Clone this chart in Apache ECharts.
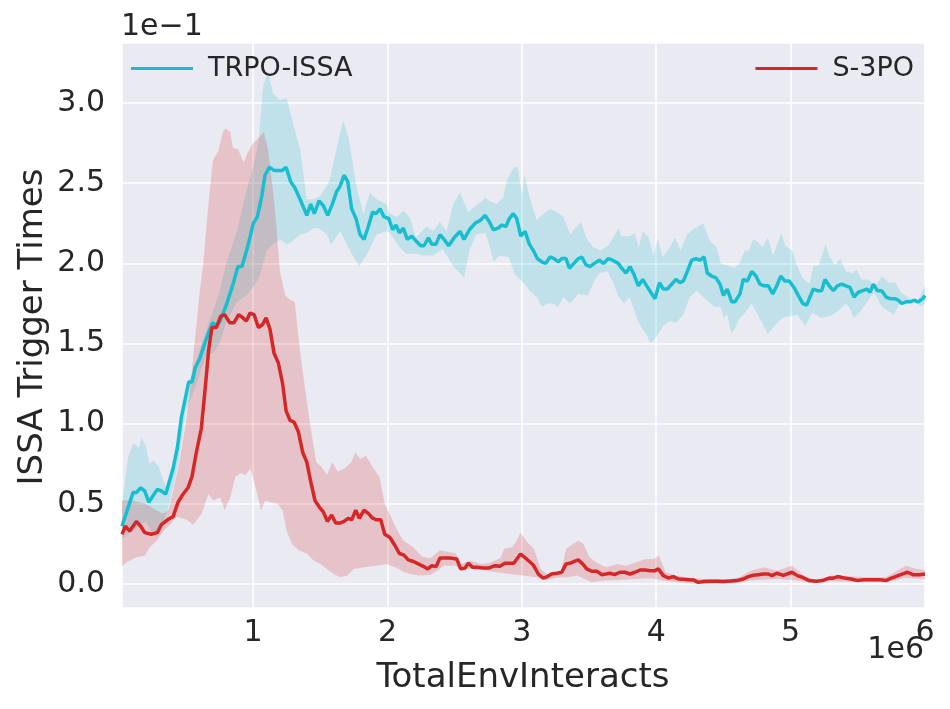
<!DOCTYPE html>
<html><head><meta charset="utf-8">
<script src="https://cdn.jsdelivr.net/npm/echarts@6/dist/echarts.min.js"></script>
<style>html,body{margin:0;padding:0;background:#fff}#c{width:950px;height:709px}</style>
</head><body><div id="c"></div><script>
// x values in units of 1e6 interactions, y values in units of 1e-1
const xTickLabels = ['1','2','3','4','5','6'];
const yTickLabels = ['0.0','0.5','1.0','1.5','2.0','2.5','3.0'];

const trpoX = [0.025,0.107,0.132,0.164,0.194,0.224,0.288,0.318,0.35,0.405,0.437,0.467,0.521,0.546,0.57,0.605,0.632,0.67,0.699,0.727,0.754,0.801,0.851,0.888,0.918,0.962,1.002,1.032,1.065,1.089,1.121,1.156,1.188,1.218,1.246,1.28,1.312,1.35,1.40,1.429,1.456,1.491,1.523,1.556,1.59,1.623,1.647,1.677,1.705,1.734,1.766,1.796,1.826,1.858,1.89,1.915,1.945,1.975,2.01,2.039,2.064,2.089,2.118,2.148,2.181,2.213,2.248,2.272,2.305,2.33,2.362,2.391,2.421,2.456,2.496,2.54,2.57,2.61,2.652,2.694,2.726,2.758,2.788,2.825,2.85,2.882,2.907,2.937,2.962,2.992,3.024,3.056,3.086,3.115,3.148,3.178,3.21,3.24,3.272,3.297,3.329,3.354,3.388,3.42,3.446,3.478,3.507,3.54,3.577,3.607,3.644,3.676,3.718,3.743,3.775,3.805,3.835,3.867,3.90,3.929,3.959,3.991,4.024,4.053,4.083,4.115,4.147,4.177,4.202,4.232,4.264,4.296,4.326,4.356,4.38,4.413,4.445,4.475,4.50,4.529,4.562,4.586,4.623,4.648,4.678,4.711,4.743,4.772,4.802,4.834,4.867,4.897,4.926,4.958,4.99,5.025,5.057,5.09,5.12,5.144,5.169,5.199,5.231,5.256,5.288,5.318,5.348,5.38,5.412,5.442,5.472,5.504,5.537,5.567,5.591,5.616,5.646,5.678,5.71,5.74,5.777,5.802,5.827,5.859,5.889,5.918,5.95,5.983,6.0];
const trpoY = [0.36,0.57,0.57,0.60,0.58,0.51,0.59,0.58,0.56,0.72,0.85,1.04,1.26,1.26,1.35,1.41,1.48,1.57,1.63,1.61,1.64,1.74,1.87,1.98,1.98,2.11,2.25,2.29,2.42,2.55,2.60,2.58,2.58,2.58,2.60,2.51,2.47,2.40,2.30,2.37,2.31,2.39,2.36,2.30,2.37,2.45,2.48,2.55,2.51,2.34,2.28,2.18,2.15,2.23,2.32,2.31,2.34,2.29,2.28,2.21,2.24,2.19,2.22,2.15,2.17,2.14,2.11,2.11,2.16,2.12,2.12,2.18,2.15,2.11,2.16,2.20,2.15,2.21,2.25,2.27,2.30,2.26,2.21,2.22,2.24,2.23,2.28,2.31,2.28,2.17,2.20,2.12,2.08,2.03,2.01,2.00,2.04,2.03,2.01,2.03,2.03,1.97,2.00,2.03,2.04,1.99,1.98,2.00,2.02,2.00,2.03,2.02,2.00,1.97,1.94,1.98,1.93,1.86,1.90,1.86,1.82,1.78,1.88,1.84,1.84,1.87,1.90,1.88,1.89,1.95,2.02,2.03,2.02,2.04,1.94,1.92,1.91,1.87,1.80,1.84,1.76,1.76,1.81,1.90,1.89,1.95,1.92,1.87,1.86,1.86,1.81,1.86,1.92,1.89,1.89,1.85,1.80,1.75,1.74,1.79,1.84,1.83,1.83,1.90,1.86,1.83,1.86,1.87,1.86,1.85,1.79,1.82,1.83,1.84,1.82,1.87,1.83,1.83,1.79,1.78,1.78,1.77,1.75,1.76,1.76,1.77,1.76,1.78,1.80];

const trpoUpX = [0.025,0.07,0.11,0.15,0.17,0.20,0.23,0.26,0.30,0.33,0.37,0.41,0.45,0.50,0.55,0.60,0.65,0.70,0.75,0.80,0.88,0.95,1.00,1.04,1.075,1.11,1.15,1.20,1.25,1.30,1.35,1.40,1.45,1.50,1.57,1.62,1.67,1.71,1.77,1.82,1.87,1.92,1.99,2.02,2.07,2.12,2.17,2.21,2.29,2.34,2.39,2.44,2.49,2.54,2.60,2.66,2.73,2.76,2.81,2.86,2.89,2.94,2.97,3.00,3.02,3.06,3.11,3.16,3.21,3.26,3.31,3.36,3.44,3.48,3.53,3.59,3.65,3.72,3.74,3.80,3.84,3.87,3.90,3.94,3.98,4.01,4.05,4.10,4.14,4.18,4.23,4.27,4.35,4.40,4.45,4.48,4.53,4.58,4.62,4.66,4.69,4.72,4.75,4.79,4.83,4.87,4.93,4.96,5.01,5.05,5.09,5.14,5.17,5.21,5.26,5.29,5.33,5.37,5.41,5.46,5.49,5.53,5.58,5.63,5.68,5.73,5.78,5.82,5.87,5.90,5.94,5.98,6.00];
const trpoUp = [0.50,0.79,0.88,0.85,0.91,0.87,0.75,0.77,0.73,0.65,0.58,0.75,0.92,1.22,1.32,1.45,1.58,1.70,1.82,2.00,2.20,2.45,2.60,2.75,3.10,3.20,3.06,3.02,3.03,2.87,2.71,2.40,2.40,2.42,2.52,2.71,2.89,2.79,2.48,2.31,2.44,2.40,2.37,2.31,2.29,2.33,2.28,2.16,2.23,2.20,2.26,2.20,2.37,2.44,2.32,2.36,2.41,2.39,2.37,2.41,2.52,2.60,2.60,2.43,2.55,2.41,2.27,2.31,2.34,2.32,2.29,2.18,2.26,2.16,2.10,2.08,2.12,2.22,2.17,2.17,2.19,2.10,2.20,2.17,2.05,2.15,2.04,2.10,2.16,2.08,2.18,2.21,2.25,2.14,2.10,2.00,1.99,1.97,2.00,2.08,2.08,2.15,2.14,2.10,2.16,2.05,2.19,2.11,2.08,1.98,1.91,1.87,1.98,1.99,2.12,2.04,1.99,2.03,1.95,1.94,1.96,1.90,1.90,1.86,1.92,1.88,1.88,1.82,1.79,1.77,1.75,1.83,1.86];
const trpoLoX = [0.025,0.07,0.11,0.15,0.20,0.23,0.26,0.30,0.33,0.37,0.41,0.45,0.50,0.55,0.60,0.65,0.70,0.75,0.80,0.88,0.95,1.00,1.05,1.10,1.15,1.20,1.25,1.28,1.35,1.40,1.45,1.49,1.55,1.58,1.65,1.72,1.79,1.85,1.92,1.99,2.02,2.09,2.14,2.21,2.26,2.34,2.41,2.45,2.49,2.53,2.57,2.61,2.66,2.73,2.76,2.79,2.83,2.90,2.95,3.01,3.06,3.11,3.15,3.19,3.23,3.27,3.31,3.36,3.42,3.49,3.54,3.58,3.64,3.68,3.72,3.76,3.80,3.87,3.93,3.96,4.01,4.05,4.10,4.15,4.20,4.25,4.30,4.35,4.43,4.48,4.50,4.53,4.56,4.59,4.62,4.65,4.71,4.78,4.83,4.89,4.94,4.99,5.05,5.11,5.16,5.23,5.29,5.35,5.41,5.44,5.47,5.52,5.57,5.62,5.68,5.73,5.77,5.82,5.87,5.92,5.97,6.00];
const trpoLo = [0.28,0.31,0.33,0.36,0.39,0.35,0.31,0.33,0.37,0.48,0.62,0.78,1.08,1.18,1.30,1.42,1.44,1.50,1.63,1.76,1.80,1.85,1.92,2.08,2.12,2.15,2.12,2.13,2.18,2.19,2.22,2.22,2.18,2.12,2.20,2.08,1.98,2.06,2.18,2.20,2.19,2.10,2.06,2.06,2.05,2.05,2.09,2.04,1.98,1.95,1.91,2.08,2.18,2.19,2.11,2.01,2.05,2.04,1.93,1.88,1.83,1.79,1.73,1.75,1.75,1.73,1.79,1.75,1.81,1.80,1.89,1.94,1.95,1.88,1.79,1.75,1.79,1.63,1.55,1.50,1.55,1.61,1.64,1.63,1.68,1.79,1.83,1.79,1.73,1.73,1.66,1.68,1.56,1.60,1.66,1.68,1.75,1.64,1.56,1.62,1.66,1.67,1.68,1.61,1.69,1.66,1.67,1.70,1.75,1.72,1.66,1.70,1.76,1.82,1.73,1.70,1.68,1.77,1.76,1.77,1.73,1.75];

const s3poX = [0.025,0.05,0.082,0.132,0.164,0.194,0.243,0.288,0.318,0.363,0.405,0.442,0.479,0.516,0.546,0.578,0.615,0.645,0.67,0.694,0.727,0.759,0.789,0.826,0.858,0.893,0.925,0.95,0.978,1.008,1.04,1.072,1.097,1.126,1.156,1.188,1.22,1.246,1.276,1.305,1.337,1.37,1.40,1.429,1.461,1.493,1.523,1.553,1.585,1.615,1.647,1.677,1.71,1.734,1.764,1.791,1.826,1.858,1.89,1.92,1.95,1.98,2.019,2.056,2.089,2.123,2.155,2.193,2.23,2.267,2.30,2.33,2.362,2.391,2.428,2.466,2.515,2.545,2.577,2.602,2.634,2.668,2.713,2.758,2.80,2.837,2.874,2.912,2.94,2.99,3.035,3.086,3.123,3.16,3.19,3.222,3.26,3.297,3.329,3.36,3.39,3.42,3.453,3.483,3.52,3.56,3.594,3.626,3.656,3.69,3.73,3.768,3.805,3.842,3.88,3.917,3.955,3.99,4.016,4.053,4.09,4.127,4.165,4.202,4.24,4.276,4.313,4.35,4.40,4.45,4.50,4.56,4.60,4.648,4.685,4.723,4.76,4.797,4.834,4.86,4.897,4.946,5.01,5.05,5.087,5.137,5.19,5.236,5.288,5.31,5.35,5.40,5.45,5.50,5.55,5.60,5.66,5.71,5.75,5.80,5.85,5.87,5.91,5.96,6.00];
const s3poY = [0.31,0.36,0.33,0.39,0.36,0.32,0.31,0.32,0.37,0.40,0.42,0.51,0.56,0.60,0.67,0.82,0.97,1.23,1.46,1.60,1.60,1.67,1.68,1.63,1.63,1.68,1.66,1.64,1.69,1.68,1.60,1.62,1.66,1.59,1.44,1.38,1.25,1.08,1.02,1.01,0.95,0.82,0.76,0.64,0.52,0.48,0.45,0.39,0.43,0.38,0.38,0.39,0.41,0.40,0.46,0.41,0.46,0.44,0.41,0.40,0.40,0.31,0.29,0.24,0.19,0.18,0.15,0.14,0.125,0.11,0.094,0.114,0.108,0.162,0.162,0.162,0.156,0.094,0.10,0.129,0.104,0.104,0.10,0.10,0.114,0.11,0.129,0.129,0.129,0.187,0.156,0.118,0.062,0.037,0.046,0.062,0.067,0.073,0.125,0.129,0.141,0.15,0.125,0.094,0.079,0.079,0.058,0.062,0.067,0.058,0.073,0.073,0.062,0.073,0.087,0.087,0.083,0.083,0.094,0.052,0.037,0.046,0.031,0.029,0.027,0.025,0.010,0.015,0.017,0.017,0.015,0.019,0.021,0.031,0.046,0.054,0.058,0.062,0.062,0.052,0.067,0.054,0.073,0.052,0.042,0.021,0.017,0.021,0.037,0.035,0.046,0.037,0.031,0.021,0.027,0.027,0.027,0.021,0.037,0.052,0.067,0.073,0.058,0.058,0.062];

const s3poUpX = [0.025,0.10,0.20,0.28,0.33,0.37,0.40,0.45,0.50,0.53,0.56,0.60,0.63,0.66,0.70,0.74,0.78,0.80,0.83,0.85,0.89,0.93,0.96,1.00,1.04,1.08,1.11,1.15,1.17,1.20,1.24,1.28,1.31,1.35,1.39,1.43,1.47,1.51,1.55,1.59,1.63,1.68,1.73,1.76,1.80,1.84,1.89,1.94,1.98,2.02,2.07,2.12,2.19,2.26,2.32,2.35,2.39,2.45,2.51,2.55,2.61,2.70,2.76,2.84,2.87,2.93,2.96,2.99,3.04,3.09,3.14,3.19,3.25,3.29,3.33,3.38,3.42,3.46,3.50,3.56,3.63,3.71,3.78,3.85,3.92,3.98,4.02,4.07,4.15,4.26,4.35,4.50,4.55,4.62,4.70,4.80,4.90,5.01,5.10,5.20,5.30,5.45,5.60,5.71,5.80,5.86,5.94,6.00];
const s3poUp = [0.52,0.52,0.50,0.46,0.44,0.46,0.56,0.75,1.00,1.20,1.46,1.80,2.00,2.30,2.64,2.70,2.83,2.84,2.82,2.72,2.71,2.63,2.69,2.75,2.78,2.82,2.72,2.44,2.27,1.95,1.80,1.77,1.76,1.45,1.20,0.97,0.76,0.73,0.68,0.76,0.70,0.72,0.76,0.82,0.78,0.80,0.73,0.67,0.50,0.43,0.34,0.27,0.23,0.17,0.16,0.18,0.21,0.20,0.19,0.125,0.145,0.125,0.13,0.16,0.22,0.23,0.27,0.32,0.26,0.22,0.094,0.06,0.07,0.079,0.22,0.25,0.27,0.25,0.17,0.13,0.104,0.125,0.114,0.135,0.156,0.156,0.177,0.073,0.052,0.037,0.031,0.031,0.031,0.042,0.083,0.104,0.083,0.114,0.052,0.021,0.052,0.046,0.042,0.042,0.087,0.114,0.094,0.087];
const s3poLoX = [0.025,0.06,0.134,0.196,0.233,0.283,0.333,0.382,0.43,0.47,0.506,0.556,0.618,0.667,0.705,0.754,0.79,0.83,0.87,0.91,0.945,0.98,1.02,1.06,1.09,1.13,1.18,1.22,1.25,1.29,1.34,1.40,1.45,1.50,1.55,1.60,1.65,1.70,1.75,1.83,1.92,1.99,2.06,2.12,2.17,2.24,2.32,2.37,2.42,2.51,2.55,2.61,2.71,2.81,2.91,3.01,3.11,3.16,3.21,3.26,3.34,3.41,3.52,3.61,3.71,3.84,3.96,4.05,4.15,4.33,4.55,4.62,4.70,4.90,5.05,5.17,5.30,5.55,5.70,5.85,6.00];
const s3poLo = [0.11,0.135,0.166,0.177,0.23,0.27,0.33,0.37,0.42,0.41,0.40,0.37,0.44,0.56,0.52,0.54,0.46,0.54,0.67,0.69,0.68,0.72,0.60,0.46,0.52,0.51,0.50,0.46,0.33,0.25,0.21,0.19,0.146,0.125,0.094,0.062,0.042,0.052,0.094,0.104,0.114,0.125,0.104,0.075,0.062,0.052,0.058,0.083,0.114,0.114,0.079,0.094,0.087,0.073,0.062,0.052,0.042,0.027,0.031,0.040,0.042,0.052,0.010,0.021,0.025,0.031,0.035,0.021,0.010,0.0,0.004,0.008,0.021,0.031,0.021,0.004,0.017,0.010,0.010,0.037,0.031];

const FONT = 'DejaVu Sans';
const INK = '#262626';
const TEAL = '#17becf';
const RED = '#d62728';

function pairs(xs, ys) { return xs.map((x, i) => [x, ys[i]]); }
function band(name, upX, up, loX, lo, fill) {
  return {
    type: 'custom', name: name, silent: true, z: 1,
    data: [[1, 1]],
    renderItem: function (params, api) {
      const pts = [];
      for (let i = 0; i < upX.length; i++) pts.push(api.coord([upX[i], up[i]]));
      for (let i = loX.length - 1; i >= 0; i--) pts.push(api.coord([loX[i], lo[i]]));
      return { type: 'polygon', shape: { points: pts }, style: { fill: fill } };
    },
    clip: true
  };
}
function isTick(v, list) { return list.some(t => Math.abs(parseFloat(t) - v) < 1e-6); }

const chart = echarts.init(document.getElementById('c'), null, { renderer: 'canvas' });
chart.setOption({
  animation: false,
  backgroundColor: '#ffffff',
  grid: { left: 122, right: 25, top: 43, bottom: 101, show: true, backgroundColor: '#eaeaf2', borderWidth: 0 },
  xAxis: {
    type: 'value', min: 0.025, max: 6, splitNumber: 5,
    axisLine: { show: false }, axisTick: { show: false },
    splitLine: { show: true, lineStyle: { color: '#ffffff', width: 1.6 } },
    axisLabel: {
      margin: 10, color: INK, fontSize: 30, fontFamily: FONT,
      formatter: v => isTick(v, xTickLabels) ? xTickLabels[Math.round(v) - 1] : ''
    }
  },
  yAxis: {
    type: 'value', min: -0.15, max: 3.375, splitNumber: 7,
    axisLine: { show: false }, axisTick: { show: false },
    splitLine: { show: true, lineStyle: { color: '#ffffff', width: 1.6 } },
    axisLabel: {
      margin: 17, color: INK, fontSize: 30, fontFamily: FONT,
      formatter: v => isTick(v, yTickLabels) ? yTickLabels[Math.round(v * 2)] : ''
    }
  },
  legend: [
    { data: ['TRPO-ISSA'], left: 126, top: 50, icon: 'rect', itemWidth: 62, itemHeight: 3,
      textStyle: { fontSize: 27, color: INK, fontFamily: FONT, padding: [0, 0, 0, 10] } },
    { data: ['S-3PO'], right: 31, top: 50, icon: 'rect', itemWidth: 62, itemHeight: 3,
      textStyle: { fontSize: 27, color: INK, fontFamily: FONT, padding: [0, 0, 0, 10] } }
  ],
  graphic: [
    { type: 'text', x: 523, y: 678, style: { text: 'TotalEnvInteracts', fontSize: 34, fontFamily: FONT, fill: INK, textAlign: 'center', textVerticalAlign: 'middle' } },
    { type: 'text', x: 33, y: 327, rotation: Math.PI / 2, style: { text: 'ISSA Trigger Times', fontSize: 34, fontFamily: FONT, fill: INK, textAlign: 'center', textVerticalAlign: 'middle' } },
    { type: 'text', x: 924, y: 650, style: { text: '1e6', fontSize: 30, fontFamily: FONT, fill: INK, textAlign: 'right', textVerticalAlign: 'middle' } },
    { type: 'text', x: 121, y: 27, style: { text: '1e\u22121', fontSize: 30, fontFamily: FONT, fill: INK, textAlign: 'left', textVerticalAlign: 'middle' } }
  ],
  series: [
    band('TRPO-ISSA band', trpoUpX, trpoUp, trpoLoX, trpoLo, 'rgba(23,190,207,0.2)'),
    { type: 'line', name: 'TRPO-ISSA', data: pairs(trpoX, trpoY), showSymbol: false, z: 3,
      lineStyle: { width: 3.5, color: TEAL }, itemStyle: { color: TEAL } },
    band('S-3PO band', s3poUpX, s3poUp, s3poLoX, s3poLo, 'rgba(214,39,40,0.2)'),
    { type: 'line', name: 'S-3PO', data: pairs(s3poX, s3poY), showSymbol: false, z: 4,
      lineStyle: { width: 3.5, color: RED }, itemStyle: { color: RED } }
  ]
});
</script></body></html>
